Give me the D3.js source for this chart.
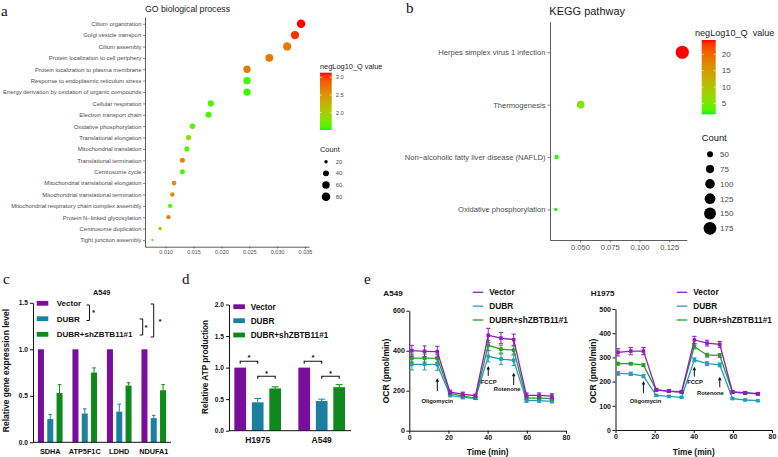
<!DOCTYPE html>
<html>
<head>
<meta charset="utf-8">
<script src="https://d3js.org/d3.v7.min.js"></script>
<style>
  body { margin: 0; background: #fff; }
  svg { display: block; font-family: "Liberation Sans", Arial, sans-serif; }
</style>
</head>
<body>
<script>
// ---------- data: a, GO biological process ----------
var goTerms = ["Cilium organization", "Golgi vesicle transport", "Cilium assembly",
  "Protein localization to cell periphery", "Protein localization to plasma membrane",
  "Response to endoplasmic reticulum stress", "Energy derivation by oxidation of organic compounds",
  "Cellular respiration", "Electron transport chain", "Oxidative phosphorylation",
  "Translational elongation", "Mitochondrial translation", "Translational termination",
  "Centrosome cycle", "Mitochondrial translational elongation", "Mitochondrial translational termination",
  "Mitochondrial respiratory chain complex assembly", "Protein N\u2212linked glycosylation",
  "Centrosome duplication", "Tight junction assembly"];
var goRatio = [0.0343, 0.0332, 0.0318, 0.0286, 0.0246, 0.0246, 0.0246, 0.0181, 0.0177, 0.0148,
  0.0141, 0.0138, 0.0130, 0.0130, 0.0115, 0.0112, 0.0108, 0.0105, 0.0090, 0.0076];
var goCount = [80, 77, 74, 67, 57, 57, 57, 42, 41, 35, 33, 32, 30, 30, 27, 26, 25, 24, 21, 17];
var goQ = [3.13, 3.05, 2.70, 2.72, 2.70, 1.58, 1.56, 1.60, 1.58, 1.64, 1.85, 1.64, 2.62, 1.60,
  2.60, 2.52, 1.60, 2.66, 2.10, 1.51];
var goTicks = [0.010, 0.015, 0.020, 0.025, 0.030, 0.035];
var goQTicks = [2.0, 2.5, 3.0];
var goCountTicks = [20, 40, 60, 80];

// ---------- data: b, KEGG pathway ----------
var keggTerms = ["Herpes simplex virus 1 infection", "Thermogenesis",
  "Non\u2212alcoholic fatty liver disease (NAFLD)", "Oxidative phosphorylation"];
var keggRatio = [0.1359, 0.0506, 0.0304, 0.0296];
var keggCount = [188, 67, 40, 38];
var keggQ = [24.4, 5.6, 1.9, 1.65];
var keggTicks = [0.050, 0.075, 0.100, 0.125];
var keggQTicks = [5, 10, 15, 20];
var keggCountTicks = [50, 75, 100, 125, 150, 175];

// ---------- data: c, relative gene expression (A549) ----------
var groups = ["Vector", "DUBR", "DUBR+shZBTB11#1"];
var geneNames = ["SDHA", "ATP5F1C", "LDHD", "NDUFA1"];
var geneVector = [1, 1, 1, 1];
var geneVectorErr = [0, 0, 0, 0];
var geneDubr = [0.25, 0.31, 0.33, 0.26];
var geneDubrErr = [0.05, 0.05, 0.08, 0.03];
var geneSh = [0.53, 0.75, 0.61, 0.56];
var geneShErr = [0.09, 0.05, 0.03, 0.06];
var geneTicks = [0, 0.5, 1.0, 1.5];

// ---------- data: d, relative ATP production ----------
var atpCells = ["H1975", "A549"];
var atpVector = [1, 1];
var atpVectorErr = [0, 0];
var atpDubr = [0.45, 0.47];
var atpDubrErr = [0.06, 0.03];
var atpSh = [0.67, 0.69];
var atpShErr = [0.025, 0.04];
var atpTicks = [0, 0.5, 1.0, 1.5, 2.0];

// ---------- data: e, OCR ----------
var ocrTime = [1.3, 7.8, 14.3, 20.8, 27.3, 33.8, 40.3, 46.8, 53.3, 59.8, 66.3, 72.8];
var a549Vector = [400, 397, 395, 193, 183, 175, 477, 463, 455, 177, 177, 173];
var a549VectorErr = [27, 27, 27, 10, 10, 8, 35, 28, 28, 12, 12, 12];
var a549Dubr = [332, 332, 330, 177, 167, 162, 372, 358, 352, 150, 150, 147];
var a549DubrErr = [28, 28, 28, 8, 8, 6, 28, 26, 26, 8, 8, 8];
var a549Sh = [363, 363, 362, 187, 173, 163, 427, 408, 403, 163, 163, 160];
var a549ShErr = [20, 20, 20, 8, 8, 6, 25, 20, 20, 8, 8, 8];
var h1975Vector = [321, 326, 326, 166, 161, 157, 372, 359, 354, 157, 154, 150];
var h1975VectorErr = [15, 15, 15, 6, 5, 5, 15, 12, 12, 5, 5, 5];
var h1975Dubr = [234, 232, 223, 143, 139, 135, 290, 274, 269, 130, 124, 121];
var h1975DubrErr = [8, 7, 7, 4, 3, 3, 8, 8, 8, 3, 3, 3];
var h1975Sh = [274, 274, 268, 166, 160, 157, 345, 309, 308, 156, 152, 149];
var h1975ShErr = [6, 5, 6, 4, 4, 4, 10, 8, 8, 4, 4, 4];
var timeTicks = [0, 20, 40, 60, 80];
var a549OcrTicks = [0, 200, 400, 600];
var h1975OcrTicks = [0, 100, 200, 300, 400, 500];
var drugNames = ["Oligomycin", "FCCP", "Rotenone"];
var drugTimes = [14.3, 40.3, 53.3];

var barColors = ["#7b0d9c", "#1b80a0", "#0e8a1c"];
var lineColors = ["#8f1fbf", "#2a9cb8", "#23a02a"];

var svg = d3.select("body").append("svg").attr("width", 778).attr("height", 457);
var defs = svg.append("defs");
var serif = '"Liberation Serif", "Times New Roman", serif';

// panel letters
[["a", 1, 15.5], ["b", 406, 12.7], ["c", 3, 283.5], ["d", 182, 283.5], ["e", 364, 283.5]]
  .forEach(function(l) {
    svg.append("text").attr("x", l[1]).attr("y", l[2]).text(l[0])
      .style("font-family", serif).style("font-size", "15px").attr("fill", "#111");
  });

// ggplot style size mapping (area_pal)
function ggSize(ext, rmin, rmax) {
  var s = d3.scaleLinear().domain(ext).range([0, 1]).clamp(true);
  return function(v) { return rmin + (rmax - rmin) * Math.sqrt(s(v)); };
}

function colorbar(id, col, ext, x, y0, y1, w, ticks, fmt, fs, labX) {
  var grad = defs.append("linearGradient").attr("id", id)
    .attr("x1", 0).attr("y1", 1).attr("x2", 0).attr("y2", 0);
  d3.range(0, 1.0001, 0.05).forEach(function(t) {
    grad.append("stop").attr("offset", t).attr("stop-color", col(ext[0] + t * (ext[1] - ext[0])));
  });
  svg.append("rect").attr("x", x).attr("y", y0).attr("width", w).attr("height", y1 - y0)
    .attr("fill", "url(#" + id + ")");
  var ly = d3.scaleLinear().domain(ext).range([y1, y0]);
  ticks.forEach(function(t) {
    svg.append("line").attr("x1", x).attr("x2", x + 2).attr("y1", ly(t)).attr("y2", ly(t))
      .attr("stroke", "#fff").attr("stroke-width", 0.6);
    svg.append("line").attr("x1", x + w - 2).attr("x2", x + w).attr("y1", ly(t)).attr("y2", ly(t))
      .attr("stroke", "#fff").attr("stroke-width", 0.6);
    svg.append("text").attr("x", labX).attr("y", ly(t)).attr("dy", "0.35em")
      .style("font-size", fs + "px").attr("fill", "#4d4d4d").text(fmt(t));
  });
}

function ggAxisStyle(g, fs) {
  g.select(".domain").attr("stroke", "#333").attr("stroke-width", 0.8);
  g.selectAll(".tick line").attr("stroke", "#333").attr("stroke-width", 0.6);
  g.selectAll(".tick text").style("font-size", fs + "px").attr("fill", "#4d4d4d");
}

// ================= a =================
var xA = d3.scaleLinear().domain([0.00629, 0.03572]).range([145, 309]);
var yA = d3.scalePoint().domain(goTerms).range([17, 246.7]).padding(0.59);
var qA = d3.extent(goQ);
var colA = d3.scaleLinear().domain(qA).range(["#00ff00", "#ff0000"]).interpolate(d3.interpolateLab);
var rA = ggSize(d3.extent(goCount), 1, 4.3);

svg.append("text").attr("x", 145).attr("y", 12).text("GO biological process")
  .style("font-size", "8.7px").attr("fill", "#1a1a1a");

var gAx = svg.append("g").attr("transform", "translate(0,246.7)")
  .call(d3.axisBottom(xA).tickValues(goTicks).tickFormat(d3.format(".3f")).tickSize(2).tickSizeOuter(0).tickPadding(1.5));
ggAxisStyle(gAx, 5.5);
var gAy = svg.append("g").attr("transform", "translate(145,0)")
  .call(d3.axisLeft(yA).tickSize(2).tickSizeOuter(0).tickPadding(1.5));
ggAxisStyle(gAy, 5.9);

svg.append("g").selectAll("circle").data(goTerms).join("circle")
  .attr("cx", function(d, i) { return xA(goRatio[i]); })
  .attr("cy", function(d) { return yA(d); })
  .attr("r", function(d, i) { return rA(goCount[i]); })
  .attr("fill", function(d, i) { return colA(goQ[i]); });

svg.append("text").attr("x", 320).attr("y", 68.5).text("negLog10_Q value")
  .style("font-size", "7.4px").attr("fill", "#1a1a1a");
colorbar("gradA", colA, qA, 320, 72.7, 130, 11.7, goQTicks, d3.format(".1f"), 5.8, 335.7);
svg.append("text").attr("x", 320).attr("y", 152).text("Count")
  .style("font-size", "7.4px").attr("fill", "#1a1a1a");
goCountTicks.forEach(function(c, i) {
  var yy = 161.7 + i * 11.67;
  svg.append("circle").attr("cx", 326).attr("cy", yy).attr("r", rA(c)).attr("fill", "#000");
  svg.append("text").attr("x", 335.7).attr("y", yy).attr("dy", "0.35em").text(c)
    .style("font-size", "5.8px").attr("fill", "#4d4d4d");
});

// ================= b =================
var xB = d3.scaleLinear().domain([0.0248, 0.13961]).range([550, 686.7]);
var yB = d3.scalePoint().domain(keggTerms).range([21.7, 240]).padding(0.583);
var qB = d3.extent(keggQ);
var colB = d3.scaleLinear().domain(qB).range(["#00ff00", "#ff0000"]).interpolate(d3.interpolateLab);
var rB = ggSize(d3.extent(keggCount), 1.6, 6.6);

svg.append("text").attr("x", 549.3).attr("y", 14.8).text("KEGG pathway")
  .style("font-size", "11px").attr("fill", "#1a1a1a");
var gBx = svg.append("g").attr("transform", "translate(0,240)")
  .call(d3.axisBottom(xB).tickValues(keggTicks).tickFormat(d3.format(".3f")).tickSize(2.5).tickSizeOuter(0).tickPadding(2));
ggAxisStyle(gBx, 7.6);
var gBy = svg.append("g").attr("transform", "translate(550,0)")
  .call(d3.axisLeft(yB).tickSize(2.5).tickSizeOuter(0).tickPadding(2));
ggAxisStyle(gBy, 7.6);

svg.append("g").selectAll("circle").data(keggTerms).join("circle")
  .attr("cx", function(d, i) { return xB(keggRatio[i]); })
  .attr("cy", function(d) { return yB(d); })
  .attr("r", function(d, i) { return rB(keggCount[i]); })
  .attr("fill", function(d, i) { return colB(keggQ[i]); });

svg.append("text").attr("x", 695).attr("y", 35.5).text("negLog10_Q\u00a0 value")
  .style("font-size", "9.1px").attr("fill", "#1a1a1a");
colorbar("gradB", colB, qB, 701.7, 40, 114.3, 14, keggQTicks, d3.format("d"), 8, 721.7);
svg.append("text").attr("x", 701.7).attr("y", 141).text("Count")
  .style("font-size", "9.4px").attr("fill", "#1a1a1a");
keggCountTicks.forEach(function(c, i) {
  var yy = 154.3 + i * 14.8;
  svg.append("circle").attr("cx", 710).attr("cy", yy).attr("r", rB(c)).attr("fill", "#000");
  svg.append("text").attr("x", 720).attr("y", yy).attr("dy", "0.35em").text(c)
    .style("font-size", "8px").attr("fill", "#4d4d4d");
});

// ---------- GraphPad style helpers ----------
function gpAxisStyle(g, fs) {
  g.select(".domain").attr("stroke", "#111").attr("stroke-width", 1);
  g.selectAll(".tick line").attr("stroke", "#111").attr("stroke-width", 1);
  g.selectAll(".tick text").style("font-size", fs + "px").style("font-weight", "bold").attr("fill", "#111");
}
function boldText(x, y, s, fs, anchor) {
  return svg.append("text").attr("x", x).attr("y", y).attr("dy", "0.35em").text(s)
    .style("font-size", fs + "px").style("font-weight", "bold").attr("fill", "#111")
    .attr("text-anchor", anchor || "start");
}
function vTitle(x, y, s, fs) {
  svg.append("text").attr("transform", "translate(" + x + "," + y + ") rotate(-90)")
    .attr("text-anchor", "middle").attr("dy", "0.35em").text(s)
    .style("font-size", fs + "px").style("font-weight", "bold").attr("fill", "#111");
}
function star(x, y) {
  svg.append("text").attr("x", x).attr("y", y).attr("text-anchor", "middle").text("*")
    .style("font-size", "8px").style("font-weight", "bold").attr("fill", "#111");
}

function barPanel(cats, series, errs, xRange, innerHalf, innerPad, yScale, ticks, catFs, tickFs, axisX) {
  var xs = d3.scaleBand().domain(cats).range(xRange);
  var xi = d3.scaleBand().domain(groups).range([-innerHalf, innerHalf]).paddingInner(innerPad);
  var y0 = yScale(0);
  series.forEach(function(vals, s) {
    var g = svg.append("g");
    cats.forEach(function(c, k) {
      var cx = xs(c) + xs.bandwidth() / 2 + xi(groups[s]);
      var w = xi.bandwidth();
      g.append("rect").attr("x", cx).attr("width", w)
        .attr("y", yScale(vals[k])).attr("height", y0 - yScale(vals[k]))
        .attr("fill", barColors[s]);
      if (errs[s][k] > 0) {
        var mx = cx + w / 2, top = yScale(vals[k] + errs[s][k]);
        g.append("line").attr("x1", mx).attr("x2", mx).attr("y1", yScale(vals[k])).attr("y2", top)
          .attr("stroke", barColors[s]).attr("stroke-width", 1);
        g.append("line").attr("x1", mx - w * 0.3).attr("x2", mx + w * 0.3).attr("y1", top).attr("y2", top)
          .attr("stroke", barColors[s]).attr("stroke-width", 1);
      }
    });
  });
  var ya = svg.append("g").attr("transform", "translate(" + axisX[0] + ",0)")
    .call(d3.axisLeft(yScale).tickValues(ticks).tickFormat(d3.format(".1f")).tickSize(3).tickSizeOuter(0).tickPadding(2));
  gpAxisStyle(ya, tickFs);
  svg.append("line").attr("x1", axisX[0]).attr("x2", axisX[1]).attr("y1", y0).attr("y2", y0)
    .attr("stroke", "#111").attr("stroke-width", 1);
  cats.forEach(function(c) {
    boldText(xs(c) + xs.bandwidth() / 2, y0 + 9.5, c, catFs, "middle");
  });
  return { xs: xs, xi: xi };
}

function legendBoxes(x, ys, tx, fs) {
  groups.forEach(function(g, i) {
    svg.append("rect").attr("x", x).attr("y", ys[i] - 2.4).attr("width", 11.6).attr("height", 4.8)
      .attr("fill", barColors[i]);
    boldText(tx, ys[i], g, fs);
  });
}

// ================= c =================
var yC = d3.scaleLinear().domain([0, 1.5]).range([442.3, 302.8]);
barPanel(geneNames, [geneVector, geneDubr, geneSh], [geneVectorErr, geneDubrErr, geneShErr],
  [33, 171], 12.3, 0.355, yC, geneTicks, 7.3, 6.6, [33, 171]);
boldText(101.7, 292.3, "A549", 7.3, "middle");
vTitle(6, 370.5, "Relative gene expression level", 8.5);
legendBoxes(36.7, [303.3, 318.7, 334.3], 56.7, 8);
[[89.5, 305, 320.5], [142.7, 319, 335], [153.7, 304, 337]].forEach(function(b) {
  svg.append("path").attr("d", "M" + (b[0] - 3) + "," + b[1] + "H" + b[0] + "V" + b[2] + "H" + (b[0] - 3))
    .attr("fill", "none").attr("stroke", "#111").attr("stroke-width", 1);
});
star(93.5, 315);
star(146, 329.5);
star(160, 323.5);

// ================= d =================
var yD = d3.scaleLinear().domain([0, 2]).range([430.7, 304.5]);
var dp = barPanel(atpCells, [atpVector, atpDubr, atpSh], [atpVectorErr, atpDubrErr, atpShErr],
  [225.7, 353.7], 23.35, 0.33, yD, atpTicks, 8.5, 6.6, [229, 351]);
vTitle(205, 367, "Relative ATP production", 8.2);
legendBoxes(233.3, [306.7, 320.7, 335], 250.7, 8.2);
atpCells.forEach(function(c) {
  var cx = dp.xs(c) + dp.xs.bandwidth() / 2;
  var w2 = dp.xi.bandwidth() / 2;
  [[0, 1, 1.10], [1, 2, 0.862]].forEach(function(p) {
    var x1 = cx + dp.xi(groups[p[0]]) + w2, x2 = cx + dp.xi(groups[p[1]]) + w2, yy = yD(p[2]);
    svg.append("path").attr("d", "M" + x1 + "," + (yy + 2.5) + "V" + yy + "H" + x2 + "V" + (yy + 2.5))
      .attr("fill", "none").attr("stroke", "#111").attr("stroke-width", 1.1);
    star((x1 + x2) / 2, yy - 0.8);
  });
});

// ================= e =================
function ocrPanel(cfg) {
  var x = d3.scaleLinear().domain([0, 80]).range(cfg.xr);
  var y = d3.scaleLinear().domain(cfg.yd).range(cfg.yr);
  var ya = svg.append("g").attr("transform", "translate(" + cfg.xr[0] + ",0)")
    .call(d3.axisLeft(y).tickValues(cfg.yt).tickSize(3).tickSizeOuter(0).tickPadding(1.5));
  gpAxisStyle(ya, 7);
  var xa = svg.append("g").attr("transform", "translate(0," + cfg.yr[0] + ")")
    .call(d3.axisBottom(x).tickValues(timeTicks).tickSize(3).tickSizeOuter(0).tickPadding(1.5));
  gpAxisStyle(xa, 7);
  boldText((cfg.xr[0] + cfg.xr[1]) / 2, 452.3, "Time (min)", 8.3, "middle");
  vTitle(cfg.yTitleX, 371, "OCR (pmol/min)", 8.5);
  boldText(cfg.titleX, 293.3, cfg.title, 8.1);

  var line = d3.line().x(function(d, i) { return x(ocrTime[i]); }).y(function(d) { return y(d); });
  [1, 2, 0].forEach(function(s) {
    var vals = cfg.series[s], errs = cfg.errs[s], c = lineColors[s];
    var g = svg.append("g");
    vals.forEach(function(v, i) {
      var px = x(ocrTime[i]);
      g.append("line").attr("x1", px).attr("x2", px).attr("y1", y(v - errs[i])).attr("y2", y(v + errs[i]))
        .attr("stroke", c).attr("stroke-width", 1);
      [v - errs[i], v + errs[i]].forEach(function(e) {
        g.append("line").attr("x1", px - 2.2).attr("x2", px + 2.2).attr("y1", y(e)).attr("y2", y(e))
          .attr("stroke", c).attr("stroke-width", 1);
      });
    });
    g.append("path").datum(vals).attr("d", line).attr("fill", "none").attr("stroke", c).attr("stroke-width", 1.3);
    g.selectAll("rect").data(vals).join("rect")
      .attr("x", function(d, i) { return x(ocrTime[i]) - 1.8; })
      .attr("y", function(d) { return y(d) - 1.8; })
      .attr("width", 3.6).attr("height", 3.6).attr("fill", c);
  });

  // injection arrows
  drugNames.forEach(function(n, i) {
    var ax = x(drugTimes[i]), a = cfg.arrows[i];
    svg.append("line").attr("x1", ax).attr("x2", ax).attr("y1", a[1]).attr("y2", a[0] + 3)
      .attr("stroke", "#111").attr("stroke-width", 1);
    svg.append("path").attr("d", "M" + (ax - 1.8) + "," + (a[0] + 3.5) + "L" + ax + "," + a[0] + "L" + (ax + 1.8) + "," + (a[0] + 3.5) + "Z")
      .attr("fill", "#111");
    boldText(ax + a[3], a[2], n, 5.8, "middle");
  });

  // legend
  groups.forEach(function(gname, i) {
    var ly = 292.3 + i * 13.85;
    svg.append("line").attr("x1", cfg.legX).attr("x2", cfg.legX + 10.6).attr("y1", ly).attr("y2", ly)
      .attr("stroke", lineColors[i]).attr("stroke-width", 1.3);
    boldText(cfg.legX + 16.6, ly, gname, 8.3);
  });
}

ocrPanel({
  xr: [409.3, 566], yd: [0, 600], yr: [430.7, 310.7], yt: a549OcrTicks,
  series: [a549Vector, a549Dubr, a549Sh], errs: [a549VectorErr, a549DubrErr, a549ShErr],
  title: "A549", titleX: 383.3, yTitleX: 386, legX: 472.7,
  arrows: [[378.3, 391, 401, 0], [366, 376, 382.3, 0.4], [372.7, 385, 389.3, -6.6]]
});
ocrPanel({
  xr: [615.5, 772], yd: [0, 500], yr: [430, 309], yt: h1975OcrTicks,
  series: [h1975Vector, h1975Dubr, h1975Sh], errs: [h1975VectorErr, h1975DubrErr, h1975ShErr],
  title: "H1975", titleX: 590.7, yTitleX: 593, legX: 676.7,
  arrows: [[381, 393.3, 400.7, 2], [366.7, 376.7, 382.3, 0.7], [376.7, 387.3, 393.3, -9.3]]
});
</script>
</body>
</html>
